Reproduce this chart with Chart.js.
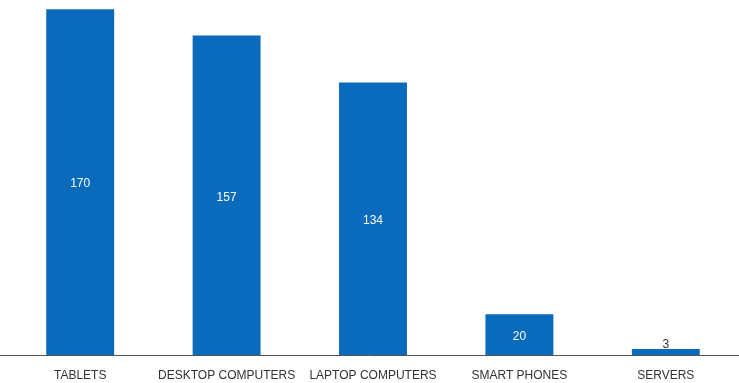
<!DOCTYPE html>
<html>
<head>
<meta charset="utf-8">
<script src="https://cdn.jsdelivr.net/npm/chart.js@4/dist/chart.umd.min.js"></script>
<style>
  html, body { margin: 0; padding: 0; background: #fff; }
  #wrap { width: 739px; height: 383px; }
</style>
</head>
<body>
<div id="wrap"><canvas id="c"></canvas></div>
<script>
// Device categories and their counts
const categories = ['TABLETS', 'DESKTOP COMPUTERS', 'LAPTOP COMPUTERS', 'SMART PHONES', 'SERVERS'];
const counts = [170, 157, 134, 20, 3];

const BAR_COLOR = '#0a6bbd';

// Draws the value of each bar: inside in white, or above the bar when it is too short
const valueLabels = {
  id: 'valueLabels',
  afterDatasetsDraw(chart) {
    const ctx = chart.ctx;
    const meta = chart.getDatasetMeta(0);
    const data = chart.data.datasets[0].data;
    ctx.save();
    ctx.font = '12px "Liberation Sans", Arial, sans-serif';
    ctx.textAlign = 'center';
    meta.data.forEach((bar, i) => {
      const h = bar.base - bar.y;
      if (h > 20) {
        ctx.fillStyle = '#ffffff';
        ctx.textBaseline = 'middle';
        ctx.fillText(String(data[i]), bar.x, (bar.y + bar.base) / 2 + 2);
      } else {
        ctx.fillStyle = '#333333';
        ctx.textBaseline = 'alphabetic';
        ctx.fillText(String(data[i]), bar.x, bar.y - 1);
      }
    });
    ctx.restore();
  }
};

// Baseline running across the full width
const baseline = {
  id: 'baseline',
  afterDatasetsDraw(chart) {
    const ctx = chart.ctx;
    const y = Math.round(chart.scales.y.getPixelForValue(0)) + 0.5;
    ctx.save();
    ctx.strokeStyle = '#555555';
    ctx.lineWidth = 1;
    ctx.beginPath();
    ctx.moveTo(0, y);
    ctx.lineTo(chart.width, y);
    ctx.stroke();
    ctx.restore();
  }
};

new Chart(document.getElementById('c'), {
  type: 'bar',
  data: {
    labels: categories,
    datasets: [{
      data: counts,
      backgroundColor: BAR_COLOR,
      borderWidth: 0,
      barPercentage: 0.464,
      categoryPercentage: 1.0
    }]
  },
  options: {
    responsive: true,
    maintainAspectRatio: false,
    animation: false,
    layout: { padding: { left: 7, right: 0, top: 0, bottom: 0 } },
    plugins: {
      legend: { display: false },
      tooltip: { enabled: false }
    },
    scales: {
      x: {
        grid: { display: false, drawTicks: false },
        border: { display: false },
        afterFit(scale) { scale.height = 28; },
        ticks: {
          color: '#333333',
          padding: 13,
          maxRotation: 0,
          autoSkip: false,
          font: { family: '"Liberation Sans", Arial, sans-serif', size: 12 }
        }
      },
      y: {
        display: false,
        min: 0,
        max: 174.5
      }
    }
  },
  plugins: [valueLabels, baseline]
});
</script>
</body>
</html>
